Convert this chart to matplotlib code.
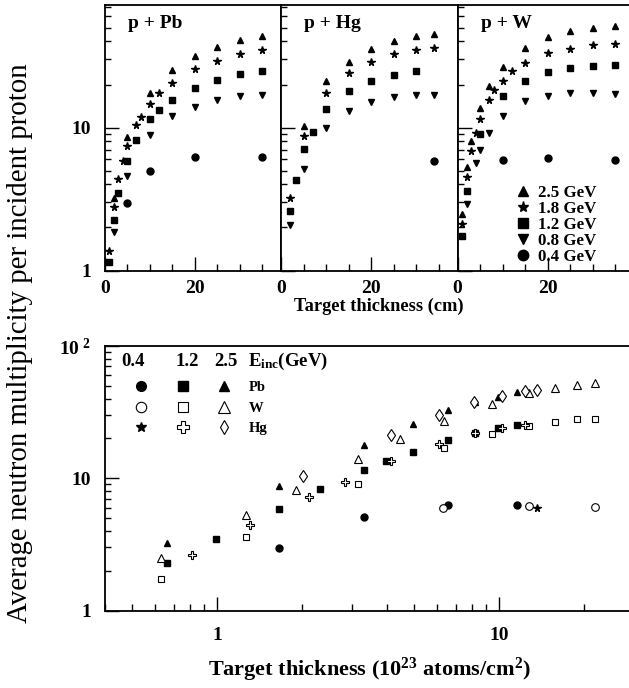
import numpy as np
import matplotlib
matplotlib.use('Agg')
import matplotlib.pyplot as plt
from matplotlib.ticker import MultipleLocator, LogLocator, FixedLocator, FixedFormatter, NullFormatter
from matplotlib.lines import Line2D

plt.rcParams['font.family'] = 'Liberation Serif'
plt.rcParams['font.weight'] = 'bold'
plt.rcParams['mathtext.fontset'] = 'custom'
plt.rcParams['mathtext.rm'] = 'Liberation Serif:bold'
plt.rcParams['mathtext.bf'] = 'Liberation Serif:bold'
plt.rcParams['mathtext.it'] = 'Liberation Serif:bold'
plt.rcParams['mathtext.default'] = 'bf'

# ---- ust paneller: kalinlik (cm) - notron sayisi
energies = ['2.5 GeV', '1.8 GeV', '1.2 GeV', '0.8 GeV', '0.4 GeV']
markers = ['^', '*', 's', 'v', 'o']

pb_x25 = [2, 5, 10, 15, 20, 25, 30, 35]
pb_y25 = [3.19, 8.6, 17.5, 25.3, 31.5, 36.7, 40.8, 43.8]
pb_x18 = [1, 2, 3, 4, 5, 7, 8, 10, 12, 15, 20, 25, 30, 35]
pb_y18 = [1.36, 2.8, 4.38, 5.88, 7.4, 10.4, 11.9, 14.5, 17.4, 20.5, 25.6, 29.4, 32.7, 35.1]
pb_x12 = [1, 2, 3, 5, 7, 10, 12, 15, 20, 25, 30, 35]
pb_y12 = [1.14, 2.27, 3.49, 5.79, 8.2, 11.4, 13.3, 15.6, 19.0, 21.6, 23.6, 24.8]
pb_x08 = [2, 5, 10, 15, 20, 25, 30, 35]
pb_y08 = [1.85, 4.57, 8.8, 12.0, 14.0, 15.5, 16.5, 16.9]
pb_x04 = [5, 10, 20, 35]
pb_y04 = [2.97, 5.0, 6.27, 6.27]

hg_x25 = [5, 10, 15, 20, 25, 30, 34]
hg_y25 = [10.2, 21.0, 28.9, 35.5, 40.4, 43.8, 45.2]
hg_x18 = [2, 5, 10, 15, 20, 25, 30, 34]
hg_y18 = [3.19, 8.7, 17.4, 24.0, 28.6, 32.7, 34.9, 35.9]
hg_x12 = [2, 3.3, 5, 7, 10, 15, 20, 25, 30]
hg_y12 = [2.6, 4.33, 7.13, 9.27, 13.4, 17.9, 21.1, 23.2, 24.8]
hg_x08 = [2, 5, 10, 15, 20, 25, 30, 34]
hg_y08 = [2.09, 5.11, 10.0, 13.1, 15.2, 16.4, 16.9, 16.9]
hg_x04 = [34]
hg_y04 = [5.88]

w_x25 = [1, 2, 3, 5, 7, 10, 15, 20, 25, 30, 35]
w_y25 = [2.49, 5.28, 8.07, 13.6, 19.4, 26.4, 35.9, 42.8, 47.1, 49.5, 51.4]
w_x18 = [1, 2, 3, 4, 5, 7, 8, 10, 12, 15, 20, 25, 30, 35]
w_y18 = [2.1, 4.49, 6.87, 9.12, 11.4, 15.7, 18.2, 21.3, 25.0, 28.5, 33.3, 35.7, 37.6, 38.5]
w_x12 = [1, 2, 5, 10, 15, 20, 25, 30, 35]
w_y12 = [1.73, 3.59, 9.03, 16.5, 21.3, 24.5, 26.2, 27.0, 27.3]
w_x08 = [2, 4, 5, 7, 10, 15, 20, 25, 30, 35]
w_y08 = [2.9, 5.66, 6.98, 9.12, 12.0, 15.3, 16.6, 17.4, 17.4, 17.2]
w_x04 = [10, 20, 35]
w_y04 = [5.94, 6.1, 5.97]

# ---- alt panel: kalinlik (10^23 atom/cm2)
b_pb_x04 = [1.66, 3.31, 6.6, 11.5]
b_pb_y04 = [2.96, 5.07, 6.3, 6.3]
b_pb_x12 = [0.663, 0.992, 1.66, 2.31, 3.31, 3.97, 4.95, 6.6, 8.18, 9.87, 11.5]
b_pb_y12 = [2.27, 3.5, 5.83, 8.29, 11.6, 13.5, 15.9, 19.5, 21.9, 24.1, 25.4]
b_pb_x25 = [0.663, 1.66, 3.31, 4.95, 6.6, 8.18, 9.87, 11.5]
b_pb_y25 = [3.23, 8.73, 17.9, 25.7, 32.6, 37.4, 41.3, 45.1]

b_w_x04 = [6.3, 12.7, 21.9]
b_w_y04 = [5.97, 6.15, 6.04]
b_w_x12 = [0.634, 1.26, 3.15, 6.34, 9.45, 12.7, 15.8, 18.9, 21.9]
b_w_y12 = [1.73, 3.59, 9.05, 16.9, 21.7, 24.8, 26.4, 27.9, 27.9]
b_w_x25 = [0.634, 1.26, 1.90, 3.15, 4.43, 6.34, 9.45, 12.7, 15.8, 18.9, 21.9]
b_w_y25 = [2.49, 5.25, 8.1, 14.0, 19.9, 27.1, 36.7, 43.8, 47.8, 50.6, 52.5]

b_hg_x04 = [13.6]
b_hg_y04 = [5.93]
b_hg_x12 = [0.811, 1.31, 2.12, 2.83, 4.13, 6.1, 8.18, 10.2, 12.3]
b_hg_y12 = [2.61, 4.43, 7.2, 9.44, 13.5, 18.3, 21.9, 24.0, 25.4]
b_hg_x25 = [2.01, 4.13, 6.1, 8.1, 10.2, 12.3, 13.6]
b_hg_y25 = [10.4, 21.4, 30.3, 37.4, 41.8, 45.4, 46.2]

fig = plt.figure(figsize=(6.29, 6.88), dpi=100)
W_, H_ = 629., 688.

def fr(x0, y0, x1, y1):
    return [x0 / W_, 1 - y1 / H_, (x1 - x0) / W_, (y1 - y0) / H_]

panel_w = 176.3
tops = []
for i in range(3):
    x0 = 105 + i * panel_w
    tops.append(fig.add_axes(fr(x0, 5, x0 + panel_w, 270.5)))

top_data = [
    ('p + Pb', [(pb_x25, pb_y25), (pb_x18, pb_y18), (pb_x12, pb_y12), (pb_x08, pb_y08), (pb_x04, pb_y04)]),
    ('p + Hg', [(hg_x25, hg_y25), (hg_x18, hg_y18), (hg_x12, hg_y12), (hg_x08, hg_y08), (hg_x04, hg_y04)]),
    ('p + W', [(w_x25, w_y25), (w_x18, w_y18), (w_x12, w_y12), (w_x08, w_y08), (w_x04, w_y04)]),
]
msz = {'^': 5, '*': 5.5, 's': 4.5, 'v': 5, 'o': 5}

for k, (ax, (title, series)) in enumerate(zip(tops, top_data)):
    for (xs, ys), m in zip(series, markers):
        ax.plot(xs, ys, ls='none', marker=m, ms=msz[m], color='black')
    ax.set_yscale('log')
    ax.set_ylim(1, 72)
    ax.set_xlim(0, 39.2)
    ax.xaxis.set_major_locator(MultipleLocator(20))
    ax.xaxis.set_minor_locator(MultipleLocator(5))
    ax.yaxis.set_major_locator(FixedLocator([1, 10]))
    ax.yaxis.set_minor_locator(LogLocator(subs=np.arange(2, 10)))
    ax.yaxis.set_minor_formatter(NullFormatter())
    if k == 0:
        ax.yaxis.set_major_formatter(FixedFormatter(['1', '10']))
    else:
        ax.set_yticklabels([])
    ax.tick_params(which='both', direction='in', top=False, right=False, labelsize=14, width=1)
    ax.tick_params(axis='x', which='major', length=10, pad=7)
    ax.tick_params(axis='x', which='minor', length=5)
    ax.tick_params(axis='y', which='major', length=10, pad=10)
    ax.tick_params(axis='y', which='minor', length=4)
    for sp in ax.spines.values():
        sp.set_linewidth(1.3)
    ax.text(0.13, 0.915, title, transform=ax.transAxes, fontsize=14, fontweight='bold')

leg_h = [Line2D([], [], ls='none', marker=m, ms=msz[m] + 2.5, color='black') for m in markers]
tops[2].legend(leg_h, energies, loc='upper left', bbox_to_anchor=(0.33, 0.322), frameon=False,
               fontsize=12.2, handlelength=0.8, handletextpad=0.5, labelspacing=0.0, borderpad=0,
               borderaxespad=0)

fig.text(0.602, 1 - 306 / H_, 'Target thickness (cm)', ha='center', va='center', fontsize=13.2, fontweight='bold')

# ---- alt panel
ax = fig.add_axes(fr(105, 346, 634, 610.5))
open_kw = dict(ls='none', mfc='white', mec='black', mew=0.8)
ax.plot(b_pb_x04, b_pb_y04, ls='none', marker='o', ms=5, color='black')
ax.plot(b_pb_x12, b_pb_y12, ls='none', marker='s', ms=4.5, color='black')
ax.plot(b_pb_x25, b_pb_y25, ls='none', marker='^', ms=5, color='black')
ax.plot(b_w_x04, b_w_y04, marker='o', ms=5.5, **open_kw)
ax.plot(b_w_x12, b_w_y12, marker='s', ms=5, **open_kw)
ax.plot(b_w_x25, b_w_y25, marker='^', ms=6, **open_kw)
ax.plot(b_hg_x04, b_hg_y04, ls='none', marker='*', ms=5.5, color='black')
ax.plot(b_hg_x12, b_hg_y12, marker='P', ms=6, **open_kw)
ax.plot(b_hg_x25, b_hg_y25, marker='d', ms=6, **open_kw)

ax.set_xscale('log')
ax.set_yscale('log')
ax.set_xlim(0.4, 30)
ax.set_ylim(1, 100)
ax.xaxis.set_major_locator(FixedLocator([1, 10]))
ax.xaxis.set_major_formatter(FixedFormatter(['1', '10']))
ax.xaxis.set_minor_locator(LogLocator(subs=np.arange(2, 10)))
ax.xaxis.set_minor_formatter(NullFormatter())
ax.yaxis.set_major_locator(FixedLocator([1, 10, 100]))
ax.yaxis.set_major_formatter(FixedFormatter(['1', '10', r'10$^{\ 2}$']))
ax.yaxis.set_minor_locator(LogLocator(subs=np.arange(2, 10)))
ax.yaxis.set_minor_formatter(NullFormatter())
ax.tick_params(which='both', direction='in', top=False, right=False, labelsize=14, width=1)
ax.tick_params(axis='x', which='major', length=10, pad=12)
ax.tick_params(axis='x', which='minor', length=5)
ax.tick_params(axis='y', which='major', length=10, pad=10)
ax.tick_params(axis='y', which='minor', length=4)
for sp in ax.spines.values():
    sp.set_linewidth(1.3)

ax.text(0.053, 0.941, '0.4', transform=ax.transAxes, fontsize=13.5, ha='center', va='center')
ax.text(0.1545, 0.941, '1.2', transform=ax.transAxes, fontsize=13.5, ha='center', va='center')
ax.text(0.2295, 0.941, '2.5', transform=ax.transAxes, fontsize=13.5, ha='center', va='center')
ax.text(0.271, 0.941, r'E$_{inc}$(GeV)', transform=ax.transAxes, fontsize=13.5, ha='left', va='center')

bh = [
    Line2D([], [], ls='none', marker='o', ms=7, color='black'),
    Line2D([], [], marker='o', ms=7.5, **open_kw),
    Line2D([], [], ls='none', marker='*', ms=7, color='black'),
    Line2D([], [], ls='none', marker='s', ms=6.5, color='black'),
    Line2D([], [], marker='s', ms=7, **open_kw),
    Line2D([], [], marker='P', ms=8, **open_kw),
    Line2D([], [], ls='none', marker='^', ms=7, color='black'),
    Line2D([], [], marker='^', ms=8, **open_kw),
    Line2D([], [], marker='d', ms=7.5, **open_kw),
]
bl = ['', '', '', '', '', '', 'Pb', 'W', 'Hg']
ax.legend(bh, bl, ncol=3, loc='upper left', bbox_to_anchor=(0.055, 0.868), frameon=False,
          fontsize=10.5, handlelength=1.0, handletextpad=1.2, columnspacing=0.62,
          labelspacing=0.5, borderpad=0, borderaxespad=0)

fig.text(0.588, 1 - 670 / H_, r'Target thickness (10$^{23}$ atoms/cm$^{2}$)', ha='center', va='center',
         fontsize=16, fontweight='bold')

fig.text(0.032, 1 - 343.5 / H_, 'Average neutron multiplicity per incident proton', rotation=90,
         ha='center', va='center', fontsize=20.8, fontweight='normal')

fig.savefig('out.png', dpi=100)
